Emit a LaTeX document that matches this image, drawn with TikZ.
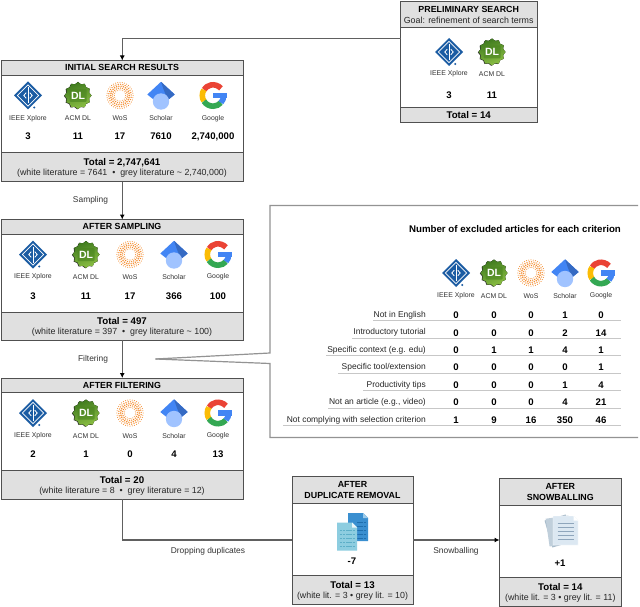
\documentclass[tikz,border=0pt]{standalone}
\usepackage{fontspec}
\setmainfont{Liberation Sans}
\usetikzlibrary{arrows.meta}
\definecolor{hdr}{HTML}{E0E0E0}
\definecolor{edge}{HTML}{505050}
\definecolor{flowc}{HTML}{606060}
\definecolor{ieeeblue}{HTML}{1B5CA3}
\definecolor{wosorange}{HTML}{F58B2B}
\definecolor{gBlue}{HTML}{4285F4}
\definecolor{gDark}{HTML}{356AC3}
\definecolor{gLight}{HTML}{A0C3FF}
\definecolor{gRed}{HTML}{EA4335}
\definecolor{gYellow}{HTML}{FBBC05}
\definecolor{gGreen}{HTML}{34A853}
\definecolor{acmDark}{HTML}{3F7A1E}
\definecolor{acmLight}{HTML}{8CC044}
\definecolor{acmShade}{HTML}{4A8420}
\definecolor{docA}{HTML}{3A8FD0}
\definecolor{docAfold}{HTML}{9CCBEA}
\definecolor{docAline}{HTML}{1F6FAE}
\definecolor{docB}{HTML}{8DCDE0}
\definecolor{docBfold}{HTML}{EAF6FA}
\definecolor{docBline}{HTML}{5DAFC8}
\definecolor{sheetA}{HTML}{DCE8F2}
\definecolor{sheetLine}{HTML}{8FA6BC}
\definecolor{sheetB}{HTML}{A9BCCB}
\definecolor{sheetC}{HTML}{C0CFDB}
\tikzset{
  panel/.style={draw=edge,line width=.95pt,inner sep=0pt,outer sep=0pt,anchor=north west},
  flow/.style={draw=flowc,line width=1.1pt},
  flowarrow/.style={flow,-{Latex[length=5pt,width=5pt,black]}},
  calloutline/.style={draw=gray!85,line width=1.2pt,line join=miter},
  stagehead/.style={font=\bfseries\fontsize{8.85}{11}\selectfont,inner sep=0pt,align=center},
  stagenote/.style={font=\fontsize{8.85}{10}\selectfont,inner sep=0pt,text=black!85},
  stagetotal/.style={font=\bfseries\fontsize{9.7}{11}\selectfont,inner sep=0pt},
  loglabel/.style={font=\fontsize{6.9}{8}\selectfont,inner sep=0pt,text=black!80},
  lognum/.style={font=\bfseries\fontsize{9.6}{11}\selectfont,inner sep=0pt},
  flowlabel/.style={font=\fontsize{8.4}{10}\selectfont,inner sep=0pt,text=black!80},
  crit/.style={font=\fontsize{8.45}{10}\selectfont,inner sep=0pt,anchor=east,text=black!85},
  rowrule/.style={draw=black!22,line width=.8pt},
  ieeeLogo/.pic={
    \fill[ieeeblue] (0,14)--(14,0)--(0,-14)--(-14,0)--cycle;
    \draw[white,line width=.6pt] (0,10.6)--(10.6,0)--(0,-10.6)--(-10.6,0)--cycle;
    \draw[white,line width=.9pt] (0,8)--(0,-8);
    \draw[white,line width=.8pt] (-1.8,2.8)--(-4.2,0)--(-1.8,-2.8) (1.8,2.8)--(4.2,0)--(1.8,-2.8);
    \fill[ieeeblue] (6.2,-12) circle (1.1);
  },
  acmLogo/.pic={
    \fill[black!75,shift={(-.8,-.5)}]
      (0:13.3) \foreach \a in {15,30,...,345}{ -- (\a:{ifthenelse(mod(\a,30)==0,13.3,11.4)}) } -- cycle;
    \fill[left color=acmDark,right color=acmLight,shading angle=20]
      (0:13.5) \foreach \a in {15,30,...,345}{ -- (\a:{ifthenelse(mod(\a,30)==0,13.5,11.6)}) } -- cycle;
    \fill[acmShade,rounded corners=1pt,opacity=.6] (-8.5,-6.5) rectangle (8.5,6.5);
    \node[inner sep=0pt,text=white,font=\bfseries\fontsize{10.5}{11}\selectfont] {DL};
  },
  wosLogo/.pic={
    \foreach \r/\n/\d/\o in {13.1/36/.55/0,11.2/30/.72/3,9.3/26/.85/0,7.4/22/.72/5,5.6/18/.5/0}{
      \foreach \i in {1,...,\n}{
        \fill[wosorange] ({\i*360/\n+\o}:\r) circle (\d);
      }
    }
  },
  scholarLogo/.pic={
    \fill[gBlue] (0,13.7)--(13.7,1)--(0,-10)--(-13.7,1)--cycle;
    \fill[gDark] (0,13.7)--(13.7,1)--(7,-4.5)--(3,5)--cycle;
    \fill[gLight] (0,-6) circle (8.2);
  },
  googleLogo/.pic={
    \draw[gRed,line width=5.6pt] (42:10.7) arc (42:148:10.7);
    \draw[gYellow,line width=5.6pt] (148:10.7) arc (148:212:10.7);
    \draw[gGreen,line width=5.6pt] (212:10.7) arc (212:318:10.7);
    \draw[gBlue,line width=5.6pt] (318:10.7) arc (318:360:10.7);
    \fill[gBlue] (.3,2.8) rectangle (13.6,-2.8);
  },
  docBack/.pic={
    \fill[docA] (-10,14)--(5,14)--(10,9)--(10,-14)--(-10,-14)--cycle;
    \fill[docAfold] (5,14)--(10,9)--(5,9)--cycle;
    \foreach \y in {5,1,-3,-7,-11}{\draw[docAline,line width=.6pt,dash pattern=on 2.5pt off .8pt] (-1,\y)--(7.5,\y);}
  },
  docFront/.pic={
    \fill[docB] (-10,14)--(5,14)--(10,9)--(10,-14)--(-10,-14)--cycle;
    \fill[docBfold] (5,14)--(10,9)--(5,9)--cycle;
    \foreach \y in {6,2,-2,-6,-10}{\draw[docBline,line width=.6pt,dash pattern=on 2.5pt off .8pt] (-7.5,\y)--(7.5,\y);}
  },
  sheet/.pic={
    \fill[sheetA,draw=white,line width=.3pt] (-12.5,14.5)--(8,14.5)--(12.5,10)--(12.5,-14.5)--(-12.5,-14.5)--cycle;
    \fill[white] (8,14.5)--(12.5,10)--(8,10)--cycle;
    \foreach \y in {7,3,-1,-5,-9}{\draw[sheetLine,line width=.6pt] (-8,\y)--(8,\y);}
  },
}
% stage panel: name, x1, ytop, x2, yhead, yfoot, ybottom
\newcommand\stagepanel[7]{%
  \pgfmathsetmacro\pw{#4-#2}%
  \pgfmathsetmacro\ph{#7-#3}%
  \pgfmathsetmacro\hh{#5-#3}%
  \pgfmathsetmacro\fh{#7-#6}%
  \node[panel,fill=white,minimum width=\pw pt,minimum height=\ph pt] (#1) at (#2,-#3) {};
  \node[panel,fill=hdr,minimum width=\pw pt,minimum height=\hh pt] (#1-head) at (#2,-#3) {};
  \node[panel,fill=hdr,minimum width=\pw pt,minimum height=\fh pt] (#1-foot) at (#2,-#6) {};
}
% source: prefix, x, ylogo, ylabel, ynum, pic, label, number
\newcommand\source[8]{%
  \pic at (#2,-#3) {#6};
  \node[loglabel] (#1-label) at (#2,-#4) {#7};
  \node[lognum] (#1-num) at (#2,-#5) {#8};
}
\newcommand\tablelogo[4]{%
  \pic at (#2,-273) {#3};
  \node[loglabel] (#1) at (#2,-296) {#4};
}
\newcommand\critrow[9]{%
  % name, left of rule, y, label, five values
  \node[crit] (#1) at (426,-#3) {#4};
  \draw[rowrule] (#2,-#3-5.5) -- (621,-#3-5.5);
  \node[lognum] (#1-a) at (456,-#3) {#5};
  \node[lognum] (#1-b) at (494,-#3) {#6};
  \node[lognum] (#1-c) at (531,-#3) {#7};
  \node[lognum] (#1-d) at (565,-#3) {#8};
  \node[lognum] (#1-e) at (601,-#3) {#9};
}
\begin{document}
\begin{tikzpicture}[x=1pt,y=1pt]
\useasboundingbox (0,0) rectangle (640,-607);
\fill[white] (0,0) rectangle (640,-607);

% exclusion table frame with call-out
\coordinate (calloutTip) at (155.5,-359);
\draw[calloutline] (calloutTip) -- (270,-353) -- (270,-205.5) -- (638,-205.5);
\draw[calloutline] (calloutTip) -- (270,-363.5) -- (270,-437.5) -- (638,-437.5);

% panels
\stagepanel{prelim}{400.5}{1}{537}{27}{107}{122}
\stagepanel{init}{1.5}{60.5}{243}{75}{152.5}{181.5}
\stagepanel{samp}{1.5}{219.5}{243}{234}{312}{340}
\stagepanel{filt}{1.5}{378}{243}{392}{470}{499}
\stagepanel{dup}{292}{476}{413}{503}{575}{604}
\stagepanel{snow}{499.5}{478}{621}{505}{577}{606}

% connectors
\coordinate (prelimOut) at ([yshift=23pt]prelim.west);
\draw[flowarrow] (prelimOut) -| (init.north);
\draw[flowarrow] (init.south) -- (samp.north);
\draw[flowarrow] (samp.south) -- (filt.north);
\draw[flow] (filt.south) |- (dup.west);
\draw[flowarrow] (dup.east) -- (snow.west |- dup.east);

\node[flowlabel] (sampling) at (90.5,-200.5) {Sampling};
\node[flowlabel] (filtering) at (93,-359) {Filtering};
\node[flowlabel] (dropping) at (208,-551) {Dropping duplicates};
\node[flowlabel] (snowballing) at (456,-551) {Snowballing};

% preliminary
\node[stagehead] (prelimT) at (468.7,-9) {PRELIMINARY SEARCH};
\node[stagenote] (prelimG) at (468.7,-20) {Goal: refinement of search terms};
\source{pa}{449}{52}{74}{95}{ieeeLogo}{IEEE Xplore}{3}
\source{pb}{492}{52}{74}{95}{acmLogo}{ACM DL}{11}
\node[stagetotal] (prelimTot) at (468.7,-115) {Total = 14};

% initial
\node[stagehead] (initT) at (122,-67.7) {INITIAL SEARCH RESULTS};
\source{ia}{28}{95.5}{118.5}{136.5}{ieeeLogo}{IEEE Xplore}{3}
\source{ib}{78}{95.5}{118.5}{136.5}{acmLogo}{ACM DL}{11}
\source{ic}{120}{95.5}{118.5}{136.5}{wosLogo}{WoS}{17}
\source{id}{161}{95.5}{118.5}{136.5}{scholarLogo}{Scholar}{7610}
\source{ie}{213}{95.5}{118.5}{136.5}{googleLogo}{Google}{2,740,000}
\node[stagetotal] (initTot) at (122,-162.5) {Total = 2,747,641};
\node[stagenote] (initNote) at (122,-173.5) {(white literature = 7641\ \ •\ \ grey literature \textasciitilde{} 2,740,000)};

% sampling
\node[stagehead] (sampT) at (122,-226.7) {AFTER SAMPLING};
\source{sa}{33}{254.5}{277}{296}{ieeeLogo}{IEEE Xplore}{3}
\source{sb}{86}{254.5}{277}{296}{acmLogo}{ACM DL}{11}
\source{sc}{130}{254.5}{277}{296}{wosLogo}{WoS}{17}
\source{sd}{174}{254.5}{277}{296}{scholarLogo}{Scholar}{366}
\source{se}{218}{254.5}{277}{296}{googleLogo}{Google}{100}
\node[stagetotal] (sampTot) at (122,-321) {Total = 497};
\node[stagenote] (sampNote) at (122,-332.5) {(white literature = 397\ \ •\ \ grey literature \textasciitilde{} 100)};

% filtering
\node[stagehead] (filtT) at (122,-385.7) {AFTER FILTERING};
\source{fa}{33}{413}{436}{454}{ieeeLogo}{IEEE Xplore}{2}
\source{fb}{86}{413}{436}{454}{acmLogo}{ACM DL}{1}
\source{fc}{130}{413}{436}{454}{wosLogo}{WoS}{0}
\source{fd}{174}{413}{436}{454}{scholarLogo}{Scholar}{4}
\source{fe}{218}{413}{436}{454}{googleLogo}{Google}{13}
\node[stagetotal] (filtTot) at (122,-480) {Total = 20};
\node[stagenote] (filtNote) at (122,-491.5) {(white literature = 8\ \ •\ \ grey literature = 12)};

% duplicates
\node[stagehead] (dupT) at (352.5,-489.5) {AFTER\\DUPLICATE REMOVAL};
\pic at (358,-527) {docBack};
\pic at (347,-536.5) {docFront};
\node[lognum] (dupNum) at (352,-561) {-7};
\node[stagetotal] (dupTot) at (352.5,-585) {Total = 13};
\node[stagenote] (dupNote) at (352.5,-596.5) {(white lit. = 3 • grey lit. = 10)};

% snowballing
\node[stagehead] (snowT) at (560.3,-491.5) {AFTER\\SNOWBALLING};
\begin{scope}[shift={(559,-531)}]
  \fill[sheetB,rotate=16] (-11,-14) rectangle (11,14);
  \fill[sheetC,rotate=8] (-11.5,-14) rectangle (11.5,14);
\end{scope}
\pic at (565.5,-530.5) {sheet};
\node[lognum] (snowNum) at (560,-563) {+1};
\node[stagetotal] (snowTot) at (560.3,-587) {Total = 14};
\node[stagenote] (snowNote) at (560.3,-598.5) {(white lit. = 3 • grey lit. = 11)};

% exclusion table
\node[font=\bfseries\fontsize{9.7}{11}\selectfont,inner sep=0pt] (tableT) at (515,-229) {Number of excluded articles for each criterion};
\tablelogo{ta}{456}{ieeeLogo}{IEEE Xplore}
\tablelogo{tb}{494}{acmLogo}{ACM DL}
\tablelogo{tc}{531}{wosLogo}{WoS}
\tablelogo{td}{565}{scholarLogo}{Scholar}
\tablelogo{te}{601}{googleLogo}{Google}
\critrow{r1}{373}{315}{Not in English}{0}{0}{0}{1}{0}
\critrow{r2}{352}{332.7}{Introductory tutorial}{0}{0}{0}{2}{14}
\critrow{r3}{326}{350}{Specific context (e.g. edu)}{0}{1}{1}{4}{1}
\critrow{r4}{338}{367.5}{Specific tool/extension}{0}{0}{0}{0}{1}
\critrow{r5}{363}{385}{Productivity tips}{0}{0}{0}{1}{4}
\critrow{r6}{328}{402.5}{Not an article (e.g., video)}{0}{0}{0}{4}{21}
\critrow{r7}{283}{420}{Not complying with selection criterion}{1}{9}{16}{350}{46}
\end{tikzpicture}
\end{document}
